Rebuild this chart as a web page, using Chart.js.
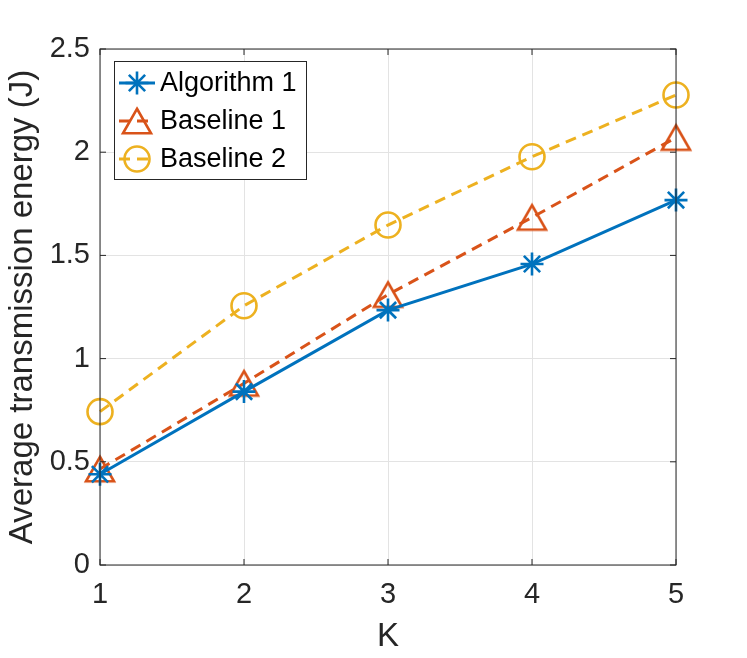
<!DOCTYPE html>
<html>
<head>
<meta charset="utf-8">
<script src="https://cdn.jsdelivr.net/npm/chart.js@4"></script>
<style>
  html, body { margin: 0; padding: 0; background: #fff; }
</style>
</head>
<body>
<canvas id="chart" width="747" height="658"></canvas>
<script>
// values
let kValues = [1, 2, 3, 4, 5]
let algorithm1 = [0.44, 0.84, 1.235, 1.458, 1.768]
let baseline1 = [0.465, 0.88, 1.31, 1.684, 2.071]
let baseline2 = [0.743, 1.256, 1.647, 1.978, 2.277]
let seriesNames = ['Algorithm 1', 'Baseline 1', 'Baseline 2']

const blue = '#0072BD'
const red = '#D95319'
const yellow = '#EDB120'
const axisColor = '#262626'
const font = '"Liberation Sans", Arial, Helvetica, sans-serif'

function pts(ys) {
  return kValues.map((k, i) => ({ x: k, y: ys[i] }))
}

// MATLAB's '^' marker is centred on its bounding box, not its circumcentre
function triangleMarker(color) {
  let c = document.createElement('canvas')
  c.width = 40
  c.height = 40
  let g = c.getContext('2d')
  let w = 28, h = 24.5
  g.strokeStyle = color
  g.lineWidth = 2.6
  g.lineJoin = 'miter'
  g.beginPath()
  g.moveTo(20, 20 - h / 2)
  g.lineTo(20 + w / 2, 20 + h / 2)
  g.lineTo(20 - w / 2, 20 + h / 2)
  g.closePath()
  g.stroke()
  return c
}

let styles = [
  { color: blue, dash: [], point: 'star', radius: 11.5 },
  { color: red, dash: [11, 7], point: triangleMarker(red), radius: 14 },
  { color: yellow, dash: [11, 7], point: 'circle', radius: 12.5 },
]

let data = {
  datasets: [algorithm1, baseline1, baseline2].map((ys, i) => ({
    label: seriesNames[i],
    data: pts(ys),
    borderColor: styles[i].color,
    backgroundColor: 'rgba(0,0,0,0)',
    borderWidth: 3,
    borderDash: styles[i].dash,
    pointStyle: styles[i].point,
    pointRadius: styles[i].radius,
    pointBorderWidth: 2.6,
    pointBorderColor: styles[i].color,
    pointBackgroundColor: 'rgba(0,0,0,0)',
    pointHoverRadius: styles[i].radius,
    clip: false,
    tension: 0,
  }))
}

// box round the axes, with MATLAB style inward ticks
const boxPlugin = {
  id: 'box',
  afterDraw(chart) {
    const { ctx, chartArea: a, scales } = chart
    ctx.save()
    ctx.strokeStyle = axisColor
    ctx.lineWidth = 1
    ctx.strokeRect(a.left, a.top, a.right - a.left, a.bottom - a.top)
    ctx.beginPath()
    const tl = 6
    scales.x.ticks.forEach(t => {
      let x = scales.x.getPixelForValue(t.value)
      ctx.moveTo(x, a.bottom); ctx.lineTo(x, a.bottom - tl)
      ctx.moveTo(x, a.top); ctx.lineTo(x, a.top + tl)
    })
    scales.y.ticks.forEach(t => {
      let y = scales.y.getPixelForValue(t.value)
      ctx.moveTo(a.left, y); ctx.lineTo(a.left + tl, y)
      ctx.moveTo(a.right, y); ctx.lineTo(a.right - tl, y)
    })
    ctx.stroke()
    ctx.restore()
  }
}

// legend with line sample and marker, like the MATLAB one
const legendPlugin = {
  id: 'matlabLegend',
  afterDraw(chart) {
    const ctx = chart.ctx
    const box = { x: 114, y: 61, w: 192, h: 118 }
    const rows = [83, 121, 159]
    ctx.save()
    ctx.fillStyle = '#fff'
    ctx.fillRect(box.x, box.y, box.w, box.h)
    ctx.strokeStyle = axisColor
    ctx.lineWidth = 1
    ctx.strokeRect(box.x + 0.5, box.y + 0.5, box.w, box.h)
    chart.data.datasets.forEach((ds, i) => {
      let y = rows[i]
      ctx.strokeStyle = ds.borderColor
      ctx.lineWidth = 3
      ctx.setLineDash(ds.borderDash)
      ctx.beginPath()
      ctx.moveTo(119, y)
      ctx.lineTo(155, y)
      ctx.stroke()
      ctx.setLineDash([])
      ctx.fillStyle = 'rgba(0,0,0,0)'
      ctx.lineWidth = ds.pointBorderWidth
      Chart.helpers.drawPoint(ctx, {
        pointStyle: ds.pointStyle,
        radius: ds.pointRadius,
        rotation: 0,
        borderWidth: ds.pointBorderWidth
      }, 137, y)
      ctx.fillStyle = '#000'
      ctx.font = '27px ' + font
      ctx.textBaseline = 'middle'
      ctx.textAlign = 'left'
      ctx.fillText(ds.label, 160, y + 1)
    })
    ctx.restore()
  }
}

const config = {
  type: 'line',
  data: data,
  plugins: [boxPlugin, legendPlugin],
  options: {
    responsive: false,
    animation: false,
    devicePixelRatio: 1,
    layout: { padding: { left: 0, top: 49, right: 71, bottom: 0 } },
    plugins: {
      legend: { display: false },
      tooltip: { enabled: false },
    },
    scales: {
      x: {
        type: 'linear',
        min: 1,
        max: 5,
        ticks: {
          stepSize: 1,
          color: axisColor,
          padding: 13,
          font: { size: 29, family: font },
          maxRotation: 0,
          callback: (v) => String(v),
        },
        grid: { color: '#e3e3e3', drawTicks: false },
        border: { display: false },
        title: {
          display: true,
          text: 'K',
          color: axisColor,
          font: { size: 33, family: font },
          padding: { top: 0, bottom: 1 },
        },
        afterFit(scale) { scale.height = 93 },
      },
      y: {
        min: 0,
        max: 2.5,
        ticks: {
          stepSize: 0.5,
          color: axisColor,
          padding: 10,
          font: { size: 29, family: font },
          callback: (v) => String(v),
        },
        grid: { color: '#e3e3e3', drawTicks: false },
        border: { display: false },
        title: {
          display: true,
          text: 'Average transmission energy (J)',
          color: axisColor,
          font: { size: 33, family: font },
          padding: { top: 3, bottom: 0 },
        },
        afterFit(scale) { scale.width = 100 },
      },
    },
  },
}

const chart = new Chart(document.getElementById('chart'), config)
</script>
</body>
</html>
